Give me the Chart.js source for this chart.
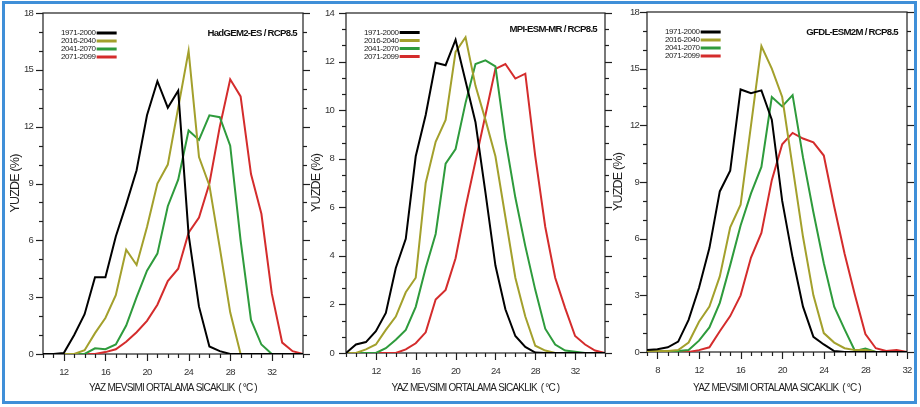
<!DOCTYPE html>
<html>
<head>
<meta charset="utf-8">
<script src="https://cdn.jsdelivr.net/npm/chart.js@4.4.1/dist/chart.umd.min.js"></script>
<style>
  html, body { margin: 0; padding: 0; background: #fff; }
  #wrap { position: relative; width: 920px; height: 407px; overflow: hidden; background: #fff; }
  #wrap canvas { position: absolute; left: 0; top: 0; width: 920px; height: 407px; }
  #frame { position: absolute; left: 2px; top: 1px; width: 915px; height: 403px;
           box-sizing: border-box; border: 3px solid #3f8fd8; pointer-events: none; }
</style>
</head>
<body>
<div id="wrap">
  <canvas id="had" width="920" height="407"></canvas>
  <canvas id="mpi" width="920" height="407"></canvas>
  <canvas id="gfdl" width="920" height="407"></canvas>
  <div id="frame"></div>
</div>
<script>
// Periods shown in every panel and their line colours
const periods = ['1971-2000', '2016-2040', '2041-2070', '2071-2099'];
const periodColors = ['#000000', '#a3a02c', '#2e9b3c', '#d42c2c'];

// ---- HadGEM2-ES / RCP8.5 : frequency (%) per summer mean temperature (°C)
const hadTemps = [10, 11, 12, 13, 14, 15, 16, 17, 18, 19, 20, 21, 22, 23, 24, 25, 26, 27, 28, 29, 30, 31, 32, 33, 34, 35];
const had1971 = [0, 0, 0.05, 1.0, 2.1, 4.05, 4.05, 6.2, 7.9, 9.7, 12.6, 14.4, 13.0, 13.9, 6.3, 2.5, 0.4, 0.15, 0, 0, 0, 0, 0, 0, 0, 0];
const had2016 = [0, 0, 0, 0, 0.2, 1.1, 1.9, 3.1, 5.5, 4.7, 6.7, 9.0, 10.0, 13.0, 16.0, 10.4, 8.9, 5.6, 2.2, 0, 0, 0, 0, 0, 0, 0];
const had2041 = [0, 0, 0, 0, 0, 0.3, 0.25, 0.5, 1.5, 3.0, 4.4, 5.3, 7.8, 9.2, 11.8, 11.3, 12.6, 12.5, 11.0, 6.0, 1.8, 0.5, 0, 0, 0, 0];
const had2071 = [0, 0, 0, 0, 0, 0, 0.1, 0.25, 0.65, 1.15, 1.75, 2.6, 3.85, 4.5, 6.4, 7.2, 9.0, 12.0, 14.5, 13.6, 9.5, 7.4, 3.2, 0.6, 0.15, 0];
const hadXTicks = [12, 16, 20, 24, 28, 32];
const hadYTicks = [0, 3, 6, 9, 12, 15, 18];

// ---- MPI-ESM-MR / RCP8.5
const mpiTemps = [9, 10, 11, 12, 13, 14, 15, 16, 17, 18, 19, 20, 21, 22, 23, 24, 25, 26, 27, 28, 29, 30, 31, 32, 33, 34, 35];
const mpi1971 = [0, 0.35, 0.45, 0.9, 1.65, 3.5, 4.7, 8.1, 9.8, 11.95, 11.85, 12.9, 11.2, 9.5, 6.6, 3.6, 1.8, 0.7, 0.25, 0.02, 0, 0, 0, 0, 0, 0, 0];
const mpi2016 = [0, 0, 0.15, 0.35, 0.95, 1.5, 2.5, 3.1, 7.0, 8.7, 9.6, 12.4, 13.0, 11.0, 9.6, 8.1, 5.6, 3.1, 1.5, 0.3, 0.1, 0, 0, 0, 0, 0, 0];
const mpi2041 = [0, 0, 0, 0, 0.2, 0.55, 0.95, 1.9, 3.5, 4.9, 7.8, 8.4, 10.3, 11.9, 12.05, 11.8, 8.8, 6.4, 4.4, 2.6, 1.0, 0.35, 0.1, 0.05, 0, 0, 0];
const mpi2071 = [0, 0, 0, 0, 0, 0, 0.15, 0.4, 0.85, 2.2, 2.6, 3.9, 6.0, 7.9, 9.8, 11.7, 11.9, 11.3, 11.5, 8.1, 5.2, 3.1, 1.85, 0.7, 0.35, 0.1, 0];
const mpiXTicks = [12, 16, 20, 24, 28, 32];
const mpiYTicks = [0, 2, 4, 6, 8, 10, 12, 14];

// ---- GFDL-ESM2M / RCP8.5
const gfdlTemps = [7, 8, 9, 10, 11, 12, 13, 14, 15, 16, 17, 18, 19, 20, 21, 22, 23, 24, 25, 26, 27, 28, 29, 30, 31, 32];
const gfdl1971 = [0.1, 0.15, 0.25, 0.55, 1.7, 3.4, 5.5, 8.5, 9.6, 13.9, 13.7, 13.85, 12.3, 8.0, 5.0, 2.4, 0.8, 0.4, 0.05, 0, 0, 0, 0, 0, 0, 0];
const gfdl2016 = [0.05, 0.05, 0.05, 0.1, 0.5, 1.6, 2.4, 4.0, 6.6, 7.8, 12.0, 16.2, 15.0, 13.5, 9.8, 6.1, 3.0, 1.0, 0.5, 0.2, 0.1, 0.1, 0, 0, 0, 0];
const gfdl2041 = [0, 0, 0, 0.05, 0.1, 0.6, 1.3, 2.6, 4.6, 6.7, 8.4, 9.8, 13.5, 13.0, 13.6, 10.3, 7.4, 4.7, 2.4, 1.2, 0.05, 0.18, 0, 0, 0, 0];
const gfdl2071 = [0, 0, 0, 0, 0, 0.1, 0.25, 1.1, 1.9, 3.0, 5.0, 6.3, 9.1, 11.0, 11.6, 11.3, 11.1, 10.4, 7.7, 5.2, 3.0, 0.95, 0.2, 0.05, 0.1, 0];
const gfdlXTicks = [8, 12, 16, 20, 24, 28, 32];
const gfdlYTicks = [0, 3, 6, 9, 12, 15, 18];

const FONT = "'Liberation Sans', Arial, sans-serif";
const INK = '#1e1e1e';

// Slightly tightened lettering for the axis labels and titles
const tightText = {
  id: 'tightText',
  beforeDraw(chart) { chart.ctx.letterSpacing = '-0.8px'; },
  afterDraw(chart) { chart.ctx.letterSpacing = '0px'; }
};

// Box frame, outward major/minor ticks on left, right and bottom, legend and panel title
const panelDecor = {
  id: 'panelDecor',
  beforeDatasetsDraw(chart, args, o) {
    const { ctx, chartArea: a, scales: { x, y } } = chart;
    ctx.save();
    ctx.strokeStyle = INK;
    ctx.lineWidth = 1.2;
    ctx.strokeRect(a.left, a.top, a.right - a.left, a.bottom - a.top);
    const seg = (x1, y1, x2, y2) => { ctx.beginPath(); ctx.moveTo(x1, y1); ctx.lineTo(x2, y2); ctx.stroke(); };
    const isMajor = (v, list) => list.some(m => Math.abs(m - v) < 1e-6);
    const nx = Math.round((x.max - x.min) / o.xMinor);
    for (let i = 0; i <= nx; i++) {
      const v = x.min + i * o.xMinor;
      const px = Math.round(x.getPixelForValue(v)) + 0.5;
      seg(px, a.bottom, px, a.bottom + (isMajor(v, o.xMajor) ? 7 : 4));
    }
    const ny = Math.round((y.max - y.min) / o.yMinor);
    for (let i = 0; i <= ny; i++) {
      const v = y.min + i * o.yMinor;
      const py = Math.round(y.getPixelForValue(v)) + 0.5;
      const len = isMajor(v, o.yMajor) ? 7 : 4;
      seg(a.left - len, py, a.left, py);
      seg(a.right, py, a.right + len, py);
    }
    ctx.restore();
  },
  afterDatasetsDraw(chart, args, o) {
    const { ctx, chartArea: a } = chart;
    ctx.save();
    // legend: label first, coloured line to its right
    ctx.letterSpacing = '-0.4px';
    ctx.font = '8px ' + FONT;
    ctx.textBaseline = 'middle';
    ctx.textAlign = 'left';
    const lx = a.left + 18;
    const widest = Math.max(...chart.data.datasets.map(d => ctx.measureText(d.label).width));
    chart.data.datasets.forEach((d, i) => {
      const ly = a.top + o.legendTop + i * 8;
      ctx.fillStyle = '#222';
      ctx.fillText(d.label, lx, ly);
      ctx.strokeStyle = d.borderColor;
      ctx.lineWidth = 3;
      ctx.beginPath();
      ctx.moveTo(lx + widest + 1, ly);
      ctx.lineTo(lx + widest + 21, ly);
      ctx.stroke();
    });
    // model / scenario title
    ctx.letterSpacing = '-0.7px';
    ctx.font = 'bold 9.6px ' + FONT;
    ctx.textAlign = 'right';
    ctx.fillStyle = '#111';
    ctx.fillText(o.title, a.right - o.titleInset, a.top + o.titleTop);
    ctx.restore();
  }
};

function makePanel(id, p) {
  const seriesList = [p.s1971, p.s2016, p.s2041, p.s2071];
  const datasets = seriesList.map((vals, i) => ({
    label: periods[i],
    data: p.temps.map((t, k) => ({ x: t, y: vals[k] })),
    borderColor: periodColors[i],
    borderWidth: 2,
    pointRadius: 0,
    tension: 0,
    fill: false
  }));
  return new Chart(document.getElementById(id), {
    type: 'line',
    data: { datasets },
    options: {
      responsive: false,
      animation: false,
      events: [],
      layout: { padding: p.pad },
      scales: {
        x: {
          type: 'linear',
          min: p.temps[0],
          max: p.temps[p.temps.length - 1],
          afterBuildTicks: s => { s.ticks = p.xTicks.map(v => ({ value: v })); },
          afterFit: s => { s.height = p.xAxisH; },
          grid: { display: false, drawTicks: true, tickLength: 7 },
          border: { display: false },
          ticks: { padding: 6, color: '#333', maxRotation: 0, autoSkip: false,
                   font: { family: FONT, size: 9.5 } },
          title: { display: true, text: 'YAZ MEVSIMI ORTALAMA SICAKLIK  ( °C )', color: '#222',
                   font: { family: FONT, size: 10 }, padding: { top: 0, bottom: 13 } }
        },
        y: {
          type: 'linear',
          min: 0,
          max: p.yTicks[p.yTicks.length - 1],
          afterBuildTicks: s => { s.ticks = p.yTicks.map(v => ({ value: v })); },
          afterFit: s => { s.width = p.yAxisW; },
          grid: { display: false, drawTicks: true, tickLength: 7 },
          border: { display: false },
          ticks: { padding: p.yLabelPad, color: '#333', autoSkip: false,
                   font: { family: FONT, size: 9.5 } },
          title: { display: true, text: 'YUZDE (%)', color: '#222',
                   font: { family: FONT, size: 12.5 }, padding: { top: 0, bottom: 0 } }
        }
      },
      plugins: {
        legend: { display: false },
        tooltip: { enabled: false },
        panelDecor: {
          title: p.title, titleInset: p.titleInset, titleTop: p.titleTop, legendTop: p.legendTop,
          xMajor: p.xTicks, yMajor: p.yTicks, xMinor: 1, yMinor: p.yMinor
        }
      }
    },
    plugins: [tightText, panelDecor]
  });
}

makePanel('had', {
  temps: hadTemps, s1971: had1971, s2016: had2016, s2041: had2041, s2071: had2071,
  xTicks: hadXTicks, yTicks: hadYTicks, yMinor: 1,
  pad: { left: 8.5, right: 617, top: 13, bottom: 0 }, yAxisW: 34.5, xAxisH: 53, yLabelPad: 3,
  title: 'HadGEM2-ES / RCP8.5', titleInset: 6, titleTop: 20, legendTop: 20
});
makePanel('mpi', {
  temps: mpiTemps, s1971: mpi1971, s2016: mpi2016, s2041: mpi2041, s2071: mpi2071,
  xTicks: mpiXTicks, yTicks: mpiYTicks, yMinor: 2 / 3,
  pad: { left: 309.5, right: 315, top: 13, bottom: 0 }, yAxisW: 36.5, xAxisH: 54, yLabelPad: 5,
  title: 'MPI-ESM-MR / RCP8.5', titleInset: 8, titleTop: 16.5, legendTop: 19.5
});
makePanel('gfdl', {
  temps: gfdlTemps, s1971: gfdl1971, s2016: gfdl2016, s2041: gfdl2041, s2071: gfdl2071,
  xTicks: gfdlXTicks, yTicks: gfdlYTicks, yMinor: 1,
  pad: { left: 611.5, right: 13, top: 12, bottom: 0 }, yAxisW: 35.5, xAxisH: 55, yLabelPad: 1,
  title: 'GFDL-ESM2M / RCP8.5', titleInset: 9, titleTop: 20, legendTop: 20
});
</script>
</body>
</html>
